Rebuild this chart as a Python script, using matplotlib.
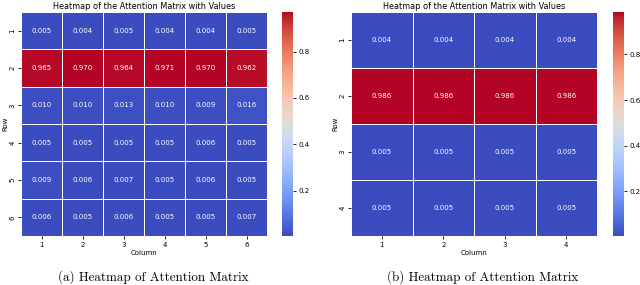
import matplotlib
matplotlib.use("Agg")
import matplotlib.pyplot as plt
import numpy as np
import seaborn as sns

left_values = [
    [0.005, 0.004, 0.005, 0.004, 0.004, 0.005],
    [0.965, 0.970, 0.964, 0.971, 0.970, 0.962],
    [0.010, 0.010, 0.013, 0.010, 0.009, 0.016],
    [0.005, 0.005, 0.005, 0.005, 0.006, 0.005],
    [0.009, 0.006, 0.007, 0.005, 0.006, 0.005],
    [0.006, 0.005, 0.006, 0.005, 0.005, 0.007],
]
left_labels = ["1", "2", "3", "4", "5", "6"]

right_values = [
    [0.004, 0.004, 0.004, 0.004],
    [0.986, 0.986, 0.986, 0.986],
    [0.005, 0.005, 0.005, 0.005],
    [0.005, 0.005, 0.005, 0.005],
]
right_labels = ["1", "2", "3", "4"]

title = "Heatmap of the Attention Matrix with Values"
captions = ["(a) Heatmap of Attention Matrix", "(b) Heatmap of Attention Matrix"]

W, H = 640, 285
fig = plt.figure(figsize=(W / 100, H / 100), dpi=100)

def px(x0, y0, x1, y1):
    return [x0 / W, 1 - y1 / H, (x1 - x0) / W, (y1 - y0) / H]

panels = [
    (left_values, left_labels, px(21, 12, 267, 236), px(282, 12, 293, 236), 153),
    (right_values, right_labels, px(351, 12, 597, 236), px(613, 12, 624, 236), 483),
]

for (vals, labels, axpos, cbpos, cx), cap in zip(panels, captions):
    ax = fig.add_axes(axpos)
    cax = fig.add_axes(cbpos)
    data = np.array(vals)
    sns.heatmap(data, ax=ax, cbar_ax=cax, cmap="coolwarm", annot=True, fmt=".3f",
                annot_kws={"fontsize": 5, "color": "white"},
                linewidths=0.65, linecolor="white",
                xticklabels=labels, yticklabels=labels)
    ax.set_title(title, fontsize=5.9, pad=2)
    ax.set_xlabel("Column", fontsize=5, labelpad=2)
    ax.set_ylabel("Row", fontsize=5, labelpad=1)
    ax.tick_params(labelsize=5, length=2.5, width=0.6, pad=1.5)
    for t in ax.get_yticklabels():
        t.set_rotation(90)
        t.set_va("center")
    cax.tick_params(labelsize=5, length=2.5, width=0.6, pad=1.5)
    cax.set_yticks([0.2, 0.4, 0.6, 0.8])
    fig.text(cx / W, 1 - 277 / H, cap, ha="center", va="center",
             fontsize=9.4, family="cmr10")

fig.savefig("out.png", dpi=100)
